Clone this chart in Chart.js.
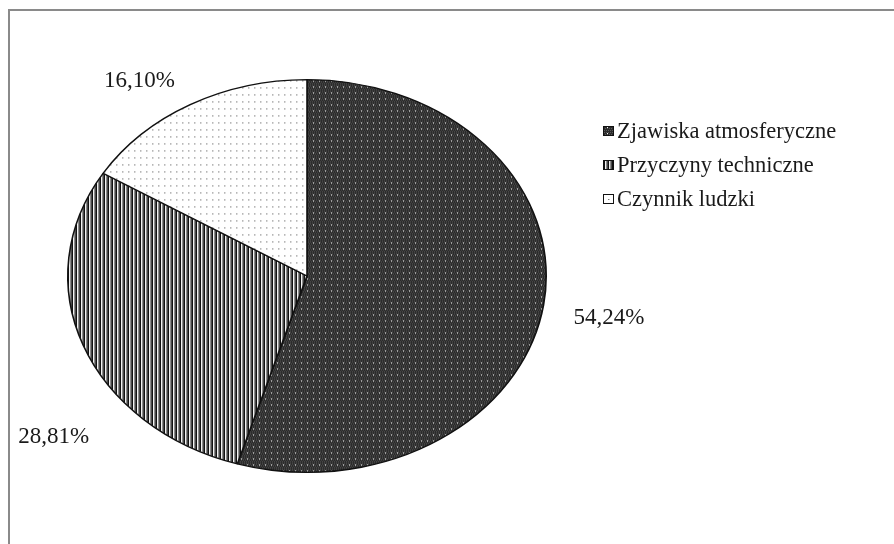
<!DOCTYPE html>
<html>
<head>
<meta charset="utf-8">
<script src="https://cdn.jsdelivr.net/npm/chart.js@4.4.1/dist/chart.umd.min.js"></script>
<style>
  html, body { margin: 0; padding: 0; background: #fff; }
  #wrap { position: relative; width: 894px; height: 544px; overflow: hidden; }
  #frame { position: absolute; left: 8px; top: 9px; right: -4px; bottom: -4px;
           border-top: 2px solid #8a8a8a; border-left: 2px solid #8a8a8a; }
  canvas { position: absolute; left: 0; top: 0; }
</style>
</head>
<body>
<div id="wrap">
  <div id="frame"></div>
  <canvas id="c" width="894" height="544"></canvas>
</div>
<script>
// Causes and their shares (%)
const categories = ['Zjawiska atmosferyczne', 'Przyczyny techniczne', 'Czynnik ludzki'];
const shares = [54.24, 28.81, 16.10];

const FONT = '"Liberation Serif", "Times New Roman", serif';
const Y_SQUASH = 0.821; // the pie is drawn as an ellipse

function makePattern(w, h, paint) {
  const cv = document.createElement('canvas');
  cv.width = w; cv.height = h;
  const g = cv.getContext('2d');
  paint(g);
  return cv;
}
// dark fill with a fine light dot grid
const darkTile = makePattern(6, 6, g => {
  g.fillStyle = '#2b2b2b'; g.fillRect(0, 0, 6, 6);
  g.fillStyle = '#5a5a5a';
  for (let y = 0; y < 6; y += 2) for (let x = (y/2)%2; x < 6; x += 2) g.fillRect(x, y, 1, 1);
  g.fillStyle = '#f4f4f4'; g.fillRect(1, 1, 1, 1);
});
// vertical stripes
const stripeTile = makePattern(4, 4, g => {
  const cols = ['#111', '#f2f2f2', '#8c8c8c', '#4a4a4a'];
  cols.forEach((c, i) => { g.fillStyle = c; g.fillRect(i, 0, 1, 4); });
});
// sparse dots on white
const dotTile = makePattern(6, 7, g => {
  g.fillStyle = '#fff'; g.fillRect(0, 0, 6, 7);
  g.fillStyle = '#777'; g.fillRect(2, 3, 1, 1);
  g.fillStyle = '#c4c4c4'; g.fillRect(3, 3, 1, 1);
});

const ctx0 = document.getElementById('c').getContext('2d');
function pat(tile, squash) {
  const p = ctx0.createPattern(tile, 'repeat');
  if (squash && p.setTransform) p.setTransform(new DOMMatrix().scale(1, 1 / Y_SQUASH));
  return p;
}
const fills = [pat(darkTile, true), pat(stripeTile, true), pat(dotTile, true)];
const legendFills = [pat(darkTile, false), pat(stripeTile, false), pat(dotTile, false)];

// squeeze the pie vertically around its centre
const ellipsePlugin = {
  id: 'ellipse',
  beforeDatasetsDraw(chart) {
    const arc = chart.getDatasetMeta(0).data[0];
    const c = chart.ctx;
    c.save();
    c.translate(0, arc.y);
    c.scale(1, Y_SQUASH);
    c.translate(0, -arc.y);
  },
  afterDatasetsDraw(chart) { chart.ctx.restore(); }
};

// percentage labels outside the slices
const valueLabels = {
  id: 'valueLabels',
  afterDatasetsDraw(chart, args, opts) {
    const c = chart.ctx;
    const meta = chart.getDatasetMeta(0);
    c.save();
    c.font = opts.font;
    c.fillStyle = '#1a1a1a';
    c.textAlign = 'center';
    c.textBaseline = 'middle';
    meta.data.forEach((arc, i) => {
      const place = opts.place[i];
      const a = (arc.startAngle + arc.endAngle) / 2 + place.shift * Math.PI / 180;
      const r = arc.outerRadius * place.dist;
      const x = arc.x + Math.cos(a) * r;
      const y = arc.y + Math.sin(a) * r * Y_SQUASH;
      const txt = shares[i].toFixed(2).replace('.', ',') + '%';
      c.fillText(txt, x, y);
    });
    c.restore();
  }
};

// legend column to the right of the pie
const sideLegend = {
  id: 'sideLegend',
  afterDraw(chart, args, opts) {
    const c = chart.ctx;
    c.save();
    c.font = opts.font;
    c.textBaseline = 'middle';
    categories.forEach((name, i) => {
      const y = opts.top + i * opts.step;
      c.fillStyle = legendFills[i];
      c.fillRect(opts.left, y - 5, 11, 10);
      c.strokeStyle = '#111';
      c.lineWidth = 1;
      c.strokeRect(opts.left + 0.5, y - 4.5, 10, 9);
      c.fillStyle = '#1a1a1a';
      c.fillText(name, opts.left + 14, y + 1);
    });
    c.restore();
  }
};

new Chart(document.getElementById('c'), {
  type: 'pie',
  data: {
    labels: categories,
    datasets: [{
      data: shares,
      backgroundColor: fills,
      borderColor: '#111',
      borderWidth: 1.6,
      borderAlign: 'center'
    }]
  },
  options: {
    responsive: false,
    animation: false,
    events: [],
    layout: { padding: { left: 67, right: 347, top: 36, bottom: 28 } },
    plugins: {
      legend: { display: false },
      tooltip: { enabled: false },
      valueLabels: {
        font: '23px ' + FONT,
        place: [ { shift: 1.1, dist: 1.28 }, { shift: -17, dist: 1.34 }, { shift: -5.9, dist: 1.217 } ]
      },
      sideLegend: { font: '22.5px ' + FONT, left: 603, top: 131, step: 34 }
    }
  },
  plugins: [ellipsePlugin, valueLabels, sideLegend]
});
</script>
</body>
</html>
